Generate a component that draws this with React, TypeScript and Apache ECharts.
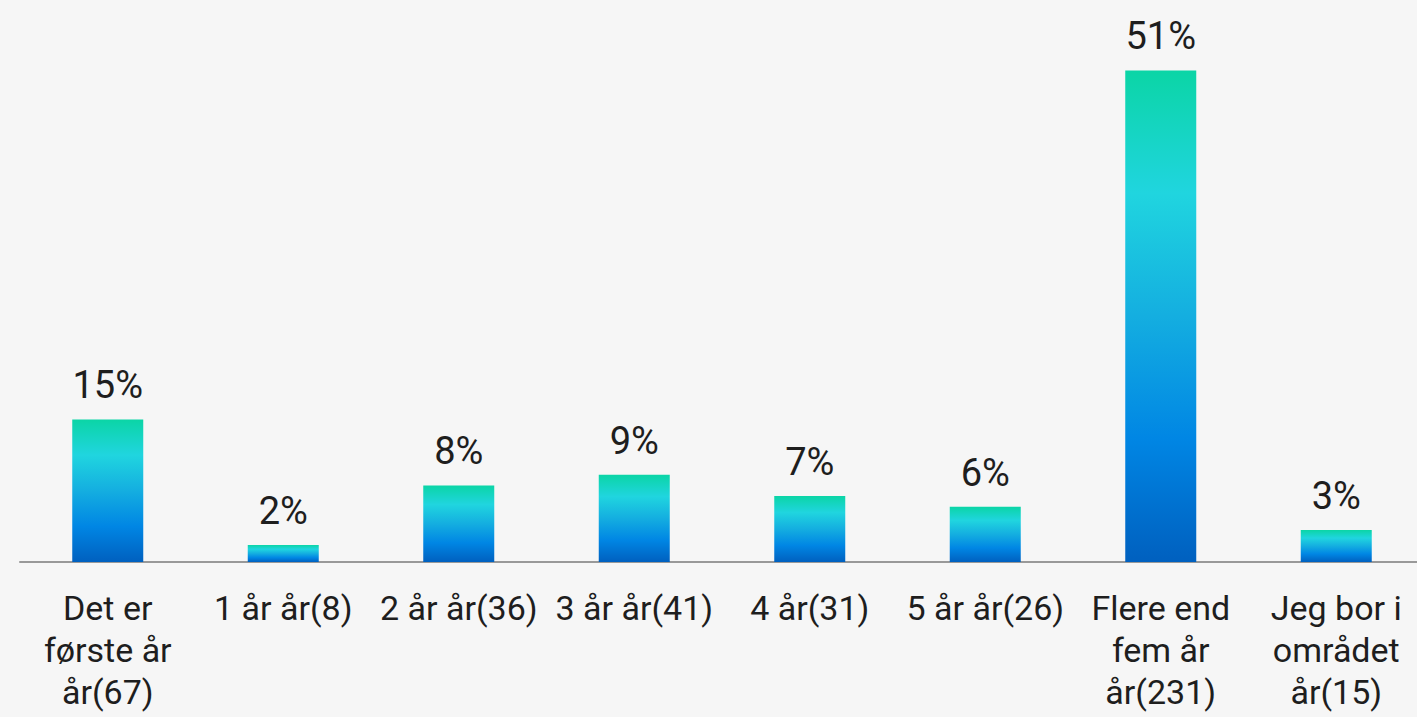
import React, { useEffect, useRef } from "react";
import * as echarts from "echarts";

const categories = [
  "Det er første år år(67)",
  "1 år år(8)",
  "2 år år(36)",
  "3 år år(41)",
  "4 år(31)",
  "5 år år(26)",
  "Flere end fem år år(231)",
  "Jeg bor i området år(15)",
];
const counts = [67, 8, 36, 41, 31, 26, 231, 15];
const total = counts.reduce((a, b) => a + b, 0);

function wrap(text: string, maxChars: number): string {
  const words = text.split(" ");
  const lines: string[] = [];
  let cur = "";
  for (const w of words) {
    const next = cur ? cur + " " + w : w;
    if (next.length > maxChars && cur) {
      lines.push(cur);
      cur = w;
    } else {
      cur = next;
    }
  }
  if (cur) lines.push(cur);
  return lines.join("\n");
}

export default function App() {
  const ref = useRef<HTMLDivElement>(null);
  useEffect(() => {
    document.body.style.margin = "0";
    document.body.style.overflow = "hidden";
    const chart = echarts.init(ref.current!, null, { renderer: "svg" });
    chart.setOption({
      animation: false,
      backgroundColor: "#f6f6f6",
      grid: {
        left: 20,
        width: 1404,
        top: 30,
        bottom: 155,
        containLabel: false,
        outerBoundsMode: "none",
      },
      xAxis: {
        type: "category",
        data: categories,
        axisLine: { lineStyle: { color: "#999", width: 2 } },
        axisTick: { show: false },
        axisLabel: {
          interval: 0,
          color: "#1e1e1e",
          fontFamily: "Roboto",
          fontSize: 34,
          lineHeight: 42,
          margin: 25,
          formatter: (v: string) => wrap(v, 11),
        },
      },
      yAxis: {
        type: "value",
        min: 0,
        max: 250,
        show: false,
        splitLine: { show: false },
      },
      series: [
        {
          type: "bar",
          data: counts,
          barWidth: 71,
          itemStyle: {
            color: new echarts.graphic.LinearGradient(0, 0, 0, 1, [
              { offset: 0, color: "#0bd5a6" },
              { offset: 0.25, color: "#20d5df" },
              { offset: 0.5, color: "#14aee0" },
              { offset: 0.75, color: "#0086e4" },
              { offset: 1, color: "#0060bf" },
            ]),
          },
          label: {
            show: true,
            position: "top",
            distance: 15,
            color: "#1e1e1e",
            fontFamily: "Roboto",
            fontSize: 38,
            formatter: (p: any) => Math.round((p.value / total) * 100) + "%",
          },
        },
      ],
    });
    return () => chart.dispose();
  }, []);
  return <div ref={ref} style={{ width: 1417, height: 717 }} />;
}
